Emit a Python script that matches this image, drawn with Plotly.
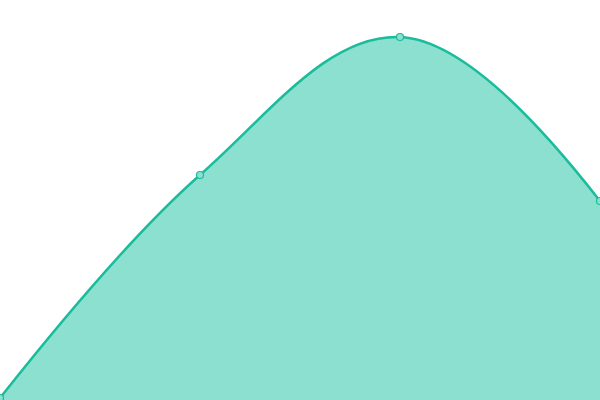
import plotly.graph_objects as go

# categories and values
etapas = [0, 1, 2, 3]
valores = [2, 225, 363, 199]

fig = go.Figure(go.Scatter(
    x=etapas,
    y=valores,
    mode="lines+markers",
    line={"shape": "spline", "smoothing": 1.1, "color": "#1abc9c", "width": 2.5},
    marker={"size": 7, "color": "#8be0d0", "line": {"color": "#1abc9c", "width": 1.2}},
    fill="tozeroy",
    fillcolor="#8be0d0",
    hoverinfo="skip",
))

fig.update_layout(
    width=600, height=400,
    margin={"l": 0, "r": 0, "t": 0, "b": 0},
    paper_bgcolor="white", plot_bgcolor="white",
    showlegend=False,
    xaxis={"visible": False, "range": [0, 3]},
    yaxis={"visible": False, "range": [0, 400]},
)

# sem margem no body para o grafico ocupar a janela toda
fig.write_html(
    "out.html",
    config={"displayModeBar": False},
    post_script="document.body.style.margin='0';document.body.style.overflow='hidden';",
)
